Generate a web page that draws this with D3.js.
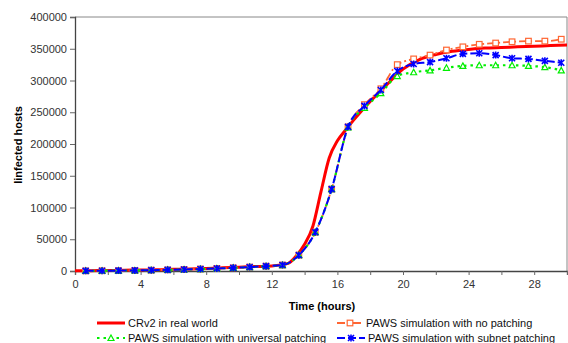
<!DOCTYPE html>
<html>
<head>
<meta charset="utf-8">
<script src="https://cdn.jsdelivr.net/npm/d3@7"></script>
<style>
  body { margin: 0; background: #fff; }
  svg text { font-family: "Liberation Sans", Arial, sans-serif; }
</style>
</head>
<body>
<div id="chart"></div>
<script>
// Real-world curve (hours, infected hosts)
const redHours = [0,1,2,3,4,5,6,7,8,9,10,11,12,13,13.5,14,14.5,15,15.5,16,16.5,17,18,19,20,21,22,23,24,25,26,27,28,29,30];
const redValues = [300,500,800,1200,1600,2000,2600,3300,4000,5000,6000,7000,8000,12000,24000,42000,70000,125000,178000,205000,222000,238000,267000,293000,318000,333000,341000,346000,349000,351000,352000,353000,354000,355000,356000];

// PAWS simulation sample times
const simHours = [0.65,1.65,2.65,3.65,4.65,5.65,6.65,7.65,8.65,9.65,10.65,11.65,12.65,13.65,14.65,15.65,16.65,17.65,18.65,19.65,20.65,21.65,22.65,23.65,24.65,25.65,26.65,27.65,28.65,29.65];
const noPatching = [200,400,600,900,1300,1800,2400,3100,4000,5000,6200,7600,9400,25000,61000,129000,227000,262000,287000,325000,334000,340000,348000,353000,357000,359000,361000,362000,362000,365000];
const universalPatching = [200,400,600,900,1300,1800,2400,3100,4000,5000,6200,7600,9400,25000,61000,129000,226000,257000,280000,307000,313000,316000,320000,323000,324000,324000,324000,323000,321000,316000];
const subnetPatching = [200,400,600,900,1300,1800,2400,3100,4000,5000,6200,7600,9400,25000,61000,129000,227000,260000,285000,315000,326000,329000,335000,342000,343000,340000,335000,334000,331000,328000];

const xTicks = [0,4,8,12,16,20,24,28];
const yTicks = [0,50000,100000,150000,200000,250000,300000,350000,400000];

const W = 568, H = 343;
const margin = {top: 17, right: 1, bottom: 72, left: 75};
const width = W - margin.left - margin.right;
const height = H - margin.top - margin.bottom;

const xScale = d3.scaleLinear().domain([0, 30]).range([0, width]);
const yScale = d3.scaleLinear().domain([0, 400000]).range([height, 0]);

const svg = d3.select('#chart').append('svg')
    .attr('width', W)
    .attr('height', H);

const g = svg.append('g')
    .attr('transform', 'translate(' + margin.left + ',' + margin.top + ')');

// frame (top/right lighter)
g.append('line').attr('x1', 0).attr('x2', width).attr('y1', 0).attr('y2', 0)
    .attr('stroke', '#888').attr('stroke-width', 1);
g.append('line').attr('x1', width).attr('x2', width).attr('y1', 0).attr('y2', height)
    .attr('stroke', '#888').attr('stroke-width', 1);

// axes
const xAxis = g.append('g')
    .attr('transform', 'translate(0,' + height + ')')
    .call(d3.axisBottom(xScale).tickValues(d3.range(0, 31, 2)).tickSize(4).tickFormat(function(d) {
        return xTicks.indexOf(d) >= 0 ? d : '';
    }));
xAxis.select('.domain').attr('stroke', '#444').attr('stroke-width', 1.3);
xAxis.selectAll('.tick line').attr('stroke', '#666');
xAxis.selectAll('.tick text').attr('font-size', 11).attr('fill', '#333').attr('dy', '0.95em');

const yAxis = g.append('g')
    .call(d3.axisLeft(yScale).tickValues(yTicks).tickSize(5).tickFormat(d3.format('d')));
yAxis.select('.domain').attr('stroke', '#444').attr('stroke-width', 1.3);
yAxis.selectAll('.tick line').attr('stroke', '#666');
yAxis.selectAll('.tick text').attr('font-size', 11).attr('fill', '#333').attr('x', -8);

svg.append('text')
    .attr('x', 322).attr('y', 310)
    .attr('text-anchor', 'middle')
    .attr('font-size', 11).attr('font-weight', 'bold')
    .text('Time (hours)');

svg.append('text')
    .attr('transform', 'translate(22,145) rotate(-90)')
    .attr('text-anchor', 'middle')
    .attr('font-size', 11).attr('font-weight', 'bold')
    .text('Iinfected hosts');

const line = d3.line()
    .x(function(d) { return xScale(d[0]); })
    .y(function(d) { return yScale(d[1]); })
    .curve(d3.curveMonotoneX);

function zip(xs, ys) { return xs.map(function(x, i) { return [x, ys[i]]; }); }

const series = [
    {name: 'CRv2 in real world', data: zip(redHours, redValues), color: '#ff0000', width: 3, dash: null, marker: null},
    {name: 'PAWS simulation with no patching', data: zip(simHours, noPatching), color: '#ff6633', width: 1.8, dash: '8,3,2,3', marker: 'square'},
    {name: 'PAWS simulation with universal patching', data: zip(simHours, universalPatching), color: '#00ee00', width: 2.2, dash: '2.5,4', marker: 'triangle'},
    {name: 'PAWS simulation with subnet patching', data: zip(simHours, subnetPatching), color: '#0000ff', width: 2, dash: '8,3', marker: 'star'}
];

function drawMarker(sel, type, color) {
    if (type === 'square') {
        sel.append('rect').attr('x', -2.8).attr('y', -2.8).attr('width', 5.6).attr('height', 5.6)
            .attr('fill', '#fff').attr('stroke', color).attr('stroke-width', 1.2);
    } else if (type === 'triangle') {
        sel.append('path').attr('d', 'M0,-3L3,2.5L-3,2.5Z')
            .attr('fill', '#fff').attr('stroke', color).attr('stroke-width', 1.2);
    } else if (type === 'star') {
        sel.append('path').attr('d', 'M-3,-3L3,3M-3,3L3,-3M0,-3.5L0,3.5')
            .attr('fill', 'none').attr('stroke', color).attr('stroke-width', 1.6);
    }
}

series.forEach(function(s) {
    g.append('path')
        .datum(s.data)
        .attr('fill', 'none')
        .attr('stroke', s.color)
        .attr('stroke-width', s.width)
        .attr('stroke-dasharray', s.dash)
        .attr('d', line);
    if (s.marker) {
        g.selectAll(null)
            .data(s.data)
            .enter().append('g')
            .attr('transform', function(d) { return 'translate(' + xScale(d[0]) + ',' + yScale(d[1]) + ')'; })
            .each(function() { drawMarker(d3.select(this), s.marker, s.color); });
    }
});

// legend
const legendPos = [
    {x: 97, y: 323, lw: 28},
    {x: 337, y: 323, lw: 26},
    {x: 97, y: 338, lw: 28},
    {x: 337, y: 338, lw: 28}
];
series.forEach(function(s, i) {
    const p = legendPos[i];
    const lg = svg.append('g').attr('transform', 'translate(' + p.x + ',' + p.y + ')');
    lg.append('line').attr('x1', 0).attr('x2', p.lw).attr('y1', 0).attr('y2', 0)
        .attr('stroke', s.color).attr('stroke-width', s.width)
        .attr('stroke-dasharray', s.dash);
    if (s.marker) {
        const m = lg.append('g').attr('transform', 'translate(' + (p.lw / 2) + ',0)');
        drawMarker(m, s.marker, s.color);
    }
    lg.append('text')
        .attr('x', p.lw + 3).attr('y', 0).attr('dy', '0.35em')
        .attr('font-size', 11).attr('fill', '#111')
        .text(s.name);
});
</script>
</body>
</html>
